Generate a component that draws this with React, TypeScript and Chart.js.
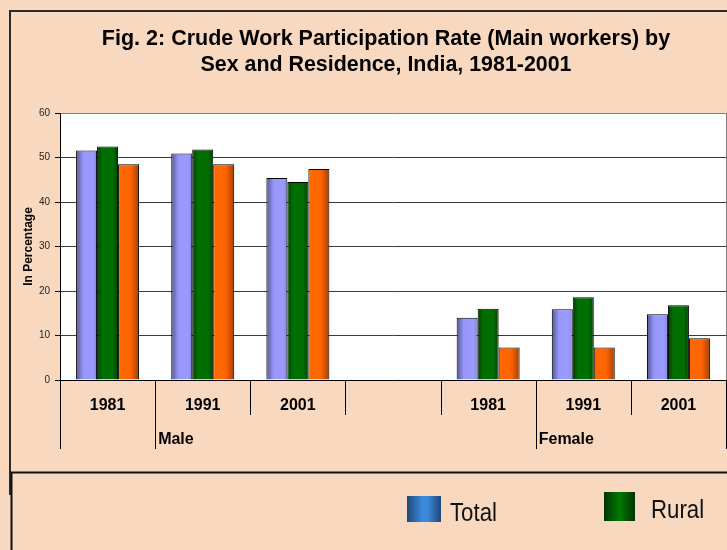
import React, { useEffect, useRef } from "react";
import { Chart, registerables } from "chart.js";

Chart.register(...registerables);

const CATEGORIES = ["1981", "1991", "2001", "", "1981", "1991", "2001"];
const GROUPS = [
  { label: "Male", boundary: 1 },
  { label: "Female", boundary: 5 },
];
const LONG_DIVIDERS = [0, 1, 5, 7];

const TOTAL = [51.6, 50.9, 45.4, null, 14.0, 15.9, 14.8];
const RURAL = [52.5, 51.8, 44.5, null, 16.0, 18.6, 16.8];
const URBAN = [48.5, 48.5, 47.4, null, 7.3, 7.3, 9.4];

const Y_TICKS = [0, 10, 20, 30, 40, 50, 60];

const TITLE_LINES = [
  "Fig. 2: Crude Work Participation Rate (Main workers) by",
  "Sex and Residence, India, 1981-2001",
];
const Y_TITLE = "In Percentage";
const LEGEND_ITEMS = ["Total", "Rural"];

const PEACH = "rgb(248,217,192)";
const CAT_PCT = 0.662;
const FONT = "'Liberation Sans', Arial, sans-serif";

type Stop = [number, string];
const TOTAL_STOPS: Stop[] = [
  [0, "#55558f"],
  [0.35, "#9797fb"],
  [0.8, "#9a9aff"],
  [1, "#8585dd"],
];
const RURAL_STOPS: Stop[] = [
  [0, "#003c00"],
  [0.25, "#006e00"],
  [0.75, "#006e00"],
  [1, "#004400"],
];
const URBAN_STOPS: Stop[] = [
  [0, "#ff6a00"],
  [0.6, "#ff6400"],
  [1, "#a34000"],
];

function barFill(stops: Stop[]) {
  return (ctx: any) => {
    const chart = ctx.chart;
    const xs = chart.scales && chart.scales.x;
    if (!xs || ctx.type !== "data" || !xs.width) return stops[1][1];
    const catW = xs.width / CATEGORIES.length;
    const barW = (catW * CAT_PCT) / 3;
    const center = xs.getPixelForValue(ctx.dataIndex);
    const left = center - 1.5 * barW + ctx.datasetIndex * barW;
    const g = chart.ctx.createLinearGradient(left, 0, left + barW, 0);
    stops.forEach(([o, c]) => g.addColorStop(o, c));
    return g;
  };
}

const decorPlugin = {
  id: "decor",
  beforeDraw(chart: any) {
    const { ctx, chartArea } = chart;
    ctx.save();
    ctx.fillStyle = PEACH;
    ctx.fillRect(0, 0, chart.width, chart.height);
    ctx.fillStyle = "#ffffff";
    ctx.fillRect(
      chartArea.left,
      chartArea.top,
      chartArea.right - chartArea.left,
      chartArea.bottom - chartArea.top
    );
    // outer frame
    ctx.strokeStyle = "#2a2a2a";
    ctx.lineWidth = 2;
    ctx.beginPath();
    ctx.moveTo(727, 11);
    ctx.lineTo(10, 11);
    ctx.lineTo(10, 495);
    ctx.stroke();
    // title
    ctx.fillStyle = "#000";
    ctx.textAlign = "center";
    ctx.textBaseline = "alphabetic";
    ctx.font = `bold 21.5px ${FONT}`;
    ctx.fillText(TITLE_LINES[0], 386, 45);
    ctx.font = `bold 21.4px ${FONT}`;
    ctx.fillText(TITLE_LINES[1], 386, 71);
    ctx.restore();
  },
  afterDraw(chart: any) {
    const { ctx, chartArea } = chart;
    const xs = chart.scales.x;
    const n = CATEGORIES.length;
    const catW = xs.width / n;
    ctx.save();
    // right border of plot
    ctx.strokeStyle = "#808080";
    ctx.lineWidth = 1;
    ctx.beginPath();
    ctx.moveTo(chartArea.right + 0.5, chartArea.top);
    ctx.lineTo(chartArea.right + 0.5, chartArea.bottom);
    ctx.stroke();
    // category dividers
    ctx.strokeStyle = "#000";
    for (let i = 0; i <= n; i++) {
      const x = Math.round(xs.left + i * catW) + 0.5;
      const long = LONG_DIVIDERS.includes(i);
      ctx.beginPath();
      ctx.moveTo(x, chartArea.bottom);
      ctx.lineTo(x, chartArea.bottom + (long ? 69 : 35));
      ctx.stroke();
    }
    // group labels
    ctx.fillStyle = "#000";
    ctx.font = `bold 16px ${FONT}`;
    ctx.textAlign = "left";
    ctx.textBaseline = "alphabetic";
    GROUPS.forEach((g) => {
      const x = xs.left + g.boundary * catW + 3;
      ctx.fillText(g.label, x, chartArea.bottom + 64);
    });
    // legend box
    ctx.strokeStyle = "#111";
    ctx.lineWidth = 2;
    ctx.beginPath();
    ctx.moveTo(727, 472.5);
    ctx.lineTo(11.5, 472.5);
    ctx.lineTo(11.5, 550);
    ctx.stroke();
    // legend swatches
    const sw = [
      { x: 407, y: 496, w: 34, h: 26, stops: [[0, "#1d4778"], [0.45, "#3b8ada"], [0.6, "#3b8ada"], [1, "#1d4778"]] as Stop[], tx: 450, ty: 521 },
      { x: 604, y: 492, w: 31, h: 29, stops: [[0, "#003300"], [0.5, "#007a00"], [1, "#003300"]] as Stop[], tx: 651, ty: 518 },
    ];
    sw.forEach((s, i) => {
      const g = ctx.createLinearGradient(s.x, 0, s.x + s.w, 0);
      s.stops.forEach(([o, c]) => g.addColorStop(o, c));
      ctx.fillStyle = g;
      ctx.fillRect(s.x, s.y, s.w, s.h);
      ctx.save();
      ctx.translate(s.tx, s.ty);
      ctx.scale(0.855, 1);
      ctx.fillStyle = "#111";
      ctx.font = `26px ${FONT}`;
      ctx.fillText(LEGEND_ITEMS[i], 0, 0);
      ctx.restore();
    });
    ctx.restore();
  },
};

export default function App() {
  const ref = useRef<HTMLCanvasElement>(null);
  useEffect(() => {
    document.body.style.margin = "0";
    const canvas = ref.current;
    if (!canvas) return;
    const chart = new Chart(canvas, {
      type: "bar",
      data: {
        labels: CATEGORIES,
        datasets: [
          { label: "Total", data: TOTAL, backgroundColor: barFill(TOTAL_STOPS) },
          { label: "Rural", data: RURAL, backgroundColor: barFill(RURAL_STOPS) },
          { label: "Urban", data: URBAN, backgroundColor: barFill(URBAN_STOPS) },
        ] as any,
      },
      options: {
        responsive: false,
        animation: false,
        devicePixelRatio: 1,
        layout: { padding: { left: 0, right: 1, top: 113, bottom: 130 } },
        datasets: {
          bar: {
            barPercentage: 1,
            categoryPercentage: CAT_PCT,
            borderColor: "#000",
            borderWidth: 1,
            borderSkipped: "bottom",
          },
        } as any,
        plugins: {
          legend: { display: false },
          title: { display: false },
          tooltip: { enabled: false },
        },
        scales: {
          x: {
            type: "category",
            offset: true,
            grid: { display: false, drawTicks: false },
            border: { display: false },
            ticks: {
              font: { family: FONT, size: 16, weight: "bold" },
              color: "#000",
              padding: 16,
              maxRotation: 0,
              autoSkip: false,
            },
            afterFit: (s: any) => {
              s.height = 40;
            },
          },
          y: {
            min: 0,
            max: 60,
            afterBuildTicks: (s: any) => {
              s.ticks = Y_TICKS.map((v) => ({ value: v }));
            },
            grid: {
              color: (c: any) =>
                c.tick && c.tick.value === 60 ? "#808080" : c.tick && c.tick.value === 0 ? "#000" : "#3a3a3a",
              tickColor: "#000",
              tickLength: 5,
              lineWidth: 1,
            },
            border: { display: true, color: "#000", width: 1 },
            ticks: {
              font: { family: FONT, size: 10 },
              color: "#222",
              padding: 5,
            },
            title: {
              display: true,
              text: Y_TITLE,
              font: { family: FONT, size: 12, weight: "bold" },
              color: "#000",
              padding: { top: 21, bottom: 0 },
            },
            afterFit: (s: any) => {
              s.width = 60;
            },
          },
        },
      },
      plugins: [decorPlugin],
    });
    return () => chart.destroy();
  }, []);
  return (
    <div style={{ position: "absolute", left: 0, top: 0, width: 727, height: 550 }}>
      <canvas ref={ref} width={727} height={550} style={{ width: 727, height: 550, display: "block" }} />
    </div>
  );
}
